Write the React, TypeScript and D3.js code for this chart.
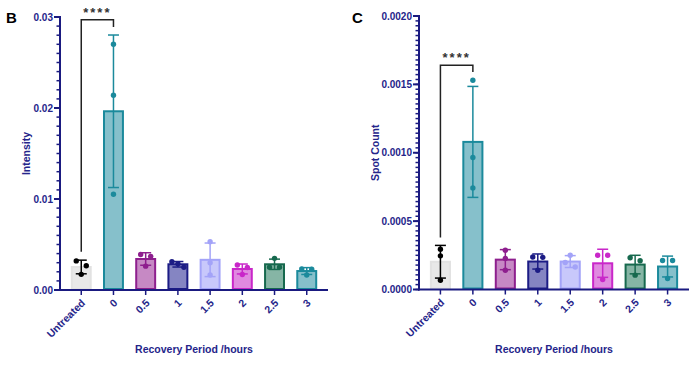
import React, { useEffect, useRef } from 'react'
import * as d3 from 'd3'

const categories = ['Untreated', '0', '0.5', '1', '1.5', '2', '2.5', '3']

// replicate values for each group
const intensityPoints = [
  [0.0032, 0.00267, 0.00172],
  [0.027, 0.0214, 0.01052],
  [0.0039, 0.0037, 0.00262],
  [0.0031, 0.00288, 0.0025],
  [0.0053, 0.003, 0.00165],
  [0.00275, 0.00248, 0.0017],
  [0.00348, 0.0025, 0.0025],
  [0.00232, 0.00228, 0.00165],
]
const spotPoints = [
  [0.000295, 0.000246, 0.000068],
  [0.00153, 0.000965, 0.000743],
  [0.000287, 0.000227, 0.000141],
  [0.000238, 0.000235, 0.000141],
  [0.000251, 0.000197, 0.000165],
  [0.000251, 0.000251, 0.000073],
  [0.000232, 0.00021, 0.000105],
  [0.000212, 0.000212, 0.00008],
]

const intensityTicks = [0, 0.01, 0.02, 0.03]
const spotTicks = [0, 0.0005, 0.001, 0.0015, 0.002]

// significance bracket: top, left foot, right foot
const intensityBracket = [0.0297, 0.0042, 0.0289]
const spotBracket = [0.00164, 0.00038, 0.00159]

const lineColors = ['#e2e2e2', '#1b8a9c', '#8e1f8e', '#1c1c85', '#a3a3f8', '#c927c9', '#17694e', '#1b8a9c']
const fillColors = ['#e8e8e8', '#86c0cb', '#c689c4', '#8585c2', '#c8c8fb', '#e08ae0', '#86b5a5', '#86c0cb']
const dotColors = ['#000000', '#1b8a9c', '#8e1f8e', '#1c1c85', '#a3a3f8', '#c927c9', '#17694e', '#1b8a9c']

const navy = '#1a1a80'
const labelNavy = '#25258a'
const font = '"Liberation Sans", Arial, sans-serif'

const jitter = (vals, y) => {
  // spread dots that would overlap, like prism's scatter
  const order = vals.map((v, i) => ({ i, py: y(v) })).sort((a, b) => a.py - b.py)
  const groups = []
  order.forEach(p => {
    const g = groups[groups.length - 1]
    if (g && p.py - g[g.length - 1].py < 5.5) g.push(p)
    else groups.push([p])
  })
  const off = vals.map(() => 0)
  groups.forEach(g => {
    const s = g.length > 2 ? 6 : 10
    g.forEach((p, k) => (off[p.i] = (k - (g.length - 1) / 2) * s))
  })
  return off
}

const drawPanel = (svg, o) => {
  const g = svg.append('g')

  const x = d3
    .scaleBand()
    .domain(categories)
    .range([o.x0, o.x1])
    .paddingInner(0.35)
    .paddingOuter(0.335)

  const y = d3.scaleLinear().domain([0, o.max]).range([o.yBottom, o.yTop])

  const stats = o.points.map(p => ({ mean: d3.mean(p), sd: d3.deviation(p) }))

  // bars
  g.selectAll('rect.bar')
    .data(stats)
    .enter()
    .append('rect')
    .attr('class', 'bar')
    .attr('x', (d, i) => x(categories[i]) + 1)
    .attr('y', d => y(d.mean))
    .attr('width', x.bandwidth() - 2)
    .attr('height', d => y(0) - y(d.mean) - 1)
    .attr('fill', (d, i) => fillColors[i])
    .attr('stroke', (d, i) => lineColors[i])
    .attr('stroke-width', 2)

  // dots
  o.points.forEach((vals, i) => {
    const cx = x(categories[i]) + x.bandwidth() / 2
    const off = jitter(vals, y)
    g.selectAll(null)
      .data(vals)
      .enter()
      .append('circle')
      .attr('cx', (d, k) => cx + off[k])
      .attr('cy', d => y(d))
      .attr('r', 2.7)
      .attr('fill', dotColors[i])
  })

  // error bars, mean +/- SD
  stats.forEach((s, i) => {
    const cx = x(categories[i]) + x.bandwidth() / 2
    const col = i === 0 ? '#000' : dotColors[i]
    const hi = y(s.mean + s.sd)
    const lo = y(s.mean - s.sd)
    g.append('line').attr('x1', cx).attr('x2', cx).attr('y1', hi).attr('y2', lo)
      .attr('stroke', col).attr('stroke-width', 1.5)
    ;[hi, lo].forEach(yy =>
      g.append('line').attr('x1', cx - 5.5).attr('x2', cx + 5.5).attr('y1', yy).attr('y2', yy)
        .attr('stroke', col).attr('stroke-width', 1.5)
    )
  })

  // y axis
  g.append('line').attr('x1', o.x0).attr('x2', o.x0).attr('y1', o.yTop - 1).attr('y2', o.yBottom + 1)
    .attr('stroke', navy).attr('stroke-width', 2)
  const minor = d3.range(0, o.max + o.minorStep / 2, o.minorStep)
  g.selectAll(null)
    .data(minor)
    .enter()
    .append('line')
    .attr('x1', o.x0 - 3.5)
    .attr('x2', o.x0)
    .attr('y1', d => y(d))
    .attr('y2', d => y(d))
    .attr('stroke', navy)
    .attr('stroke-width', 1.5)
  g.selectAll(null)
    .data(o.ticks)
    .enter()
    .append('line')
    .attr('x1', o.x0 - 6)
    .attr('x2', o.x0)
    .attr('y1', d => y(d))
    .attr('y2', d => y(d))
    .attr('stroke', navy)
    .attr('stroke-width', 2)
  g.selectAll(null)
    .data(o.ticks)
    .enter()
    .append('text')
    .attr('x', o.x0 - 7)
    .attr('y', d => y(d))
    .attr('dy', '0.35em')
    .attr('text-anchor', 'end')
    .style('font', `bold 10px ${font}`)
    .attr('fill', labelNavy)
    .text(d => d3.format(o.format)(d))

  // x axis
  g.append('line').attr('x1', o.x0 - 1).attr('x2', o.x1).attr('y1', o.yBottom).attr('y2', o.yBottom)
    .attr('stroke', navy).attr('stroke-width', 2)
  g.selectAll(null)
    .data(categories)
    .enter()
    .append('line')
    .attr('x1', d => x(d) + x.bandwidth() / 2)
    .attr('x2', d => x(d) + x.bandwidth() / 2)
    .attr('y1', o.yBottom)
    .attr('y2', o.yBottom + 5)
    .attr('stroke', navy)
    .attr('stroke-width', 1.5)
  g.selectAll(null)
    .data(categories)
    .enter()
    .append('text')
    .attr('transform', d => `translate(${x(d) + x.bandwidth() / 2 + 2},${o.yBottom + 11}) rotate(-45)`)
    .attr('dy', '0.35em')
    .attr('text-anchor', 'end')
    .style('font', `bold 10.5px ${font}`)
    .attr('fill', labelNavy)
    .text(d => d)

  // axis titles
  g.append('text')
    .attr('transform', `translate(${o.yLabelX},${(o.yTop + o.yBottom) / 2}) rotate(-90)`)
    .attr('text-anchor', 'middle')
    .attr('dy', '0.35em')
    .style('font', `bold 10.5px ${font}`)
    .attr('fill', labelNavy)
    .text(o.yLabel)
  g.append('text')
    .attr('x', (o.x0 + o.x1) / 2)
    .attr('y', 353)
    .attr('text-anchor', 'middle')
    .style('font', `bold 10.5px ${font}`)
    .attr('fill', labelNavy)
    .text('Recovery Period /hours')

  // panel letter
  g.append('text')
    .attr('x', o.letterX)
    .attr('y', 23)
    .style('font', `bold 15px ${font}`)
    .attr('fill', '#000')
    .text(o.letter)

  // significance bracket
  const bx0 = x(categories[0]) + x.bandwidth() / 2
  const bx1 = x(categories[1]) + x.bandwidth() / 2
  const [top, footL, footR] = o.bracket
  g.append('path')
    .attr('d', `M${bx0},${y(footL)}V${y(top)}H${bx1}V${y(footR)}`)
    .attr('fill', 'none')
    .attr('stroke', '#222')
    .attr('stroke-width', 1.5)
  g.append('text')
    .attr('x', (bx0 + bx1) / 2)
    .attr('y', y(top) - 3)
    .attr('text-anchor', 'middle')
    .style('font', `bold 13px ${font}`)
    .style('letter-spacing', '2px')
    .attr('fill', '#333')
    .text('****')
}

const App = () => {
  const ref = useRef(null)

  useEffect(() => {
    const svg = d3.select(ref.current)
    svg.selectAll('*').remove()
    drawPanel(svg, {
      points: intensityPoints,
      ticks: intensityTicks,
      max: 0.03,
      minorStep: 0.001,
      format: '.2f',
      yLabel: 'Intensity',
      yLabelX: 26,
      letter: 'B',
      letterX: 6,
      bracket: intensityBracket,
      x0: 60,
      x1: 328,
      yTop: 17,
      yBottom: 290,
    })
    drawPanel(svg, {
      points: spotPoints,
      ticks: spotTicks,
      max: 0.002,
      minorStep: 0.0005 / 14,
      format: '.4f',
      yLabel: 'Spot Count',
      yLabelX: 375,
      letter: 'C',
      letterX: 352,
      bracket: spotBracket,
      x0: 419,
      x1: 689,
      yTop: 16,
      yBottom: 289.5,
    })
  }, [])

  return (
    <svg
      ref={ref}
      width={700}
      height={365}
      style={{ position: 'absolute', left: 0, top: 0, background: '#fff' }}
    />
  )
}

export default App
